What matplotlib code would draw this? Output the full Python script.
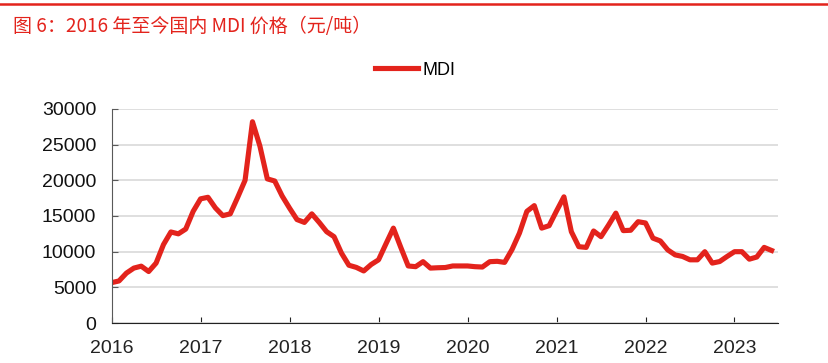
import numpy as np
import matplotlib
matplotlib.use("Agg")
import matplotlib.pyplot as plt
from matplotlib.lines import Line2D

# monthly MDI price, Jan 2016 - Jun 2023 (yuan/ton)
mdi_2016 = [5660, 5900, 7000, 7700, 7970, 7220, 8400, 11000, 12760, 12500, 13170, 15650]
mdi_2017 = [17400, 17620, 16130, 15050, 15300, 17600, 20000, 28200, 24800, 20200, 19900, 17800]
mdi_2018 = [16100, 14500, 14100, 15300, 14100, 12800, 12100, 9800, 8100, 7800, 7300, 8200]
mdi_2019 = [8860, 11100, 13300, 10600, 8000, 7900, 8600, 7700, 7750, 7780, 8000, 8000]
mdi_2020 = [8000, 7900, 7850, 8600, 8650, 8500, 10300, 12600, 15650, 16450, 13300, 13640]
mdi_2021 = [15700, 17680, 12800, 10700, 10600, 12900, 12100, 13700, 15400, 12950, 13000, 14200]
mdi_2022 = [14020, 11900, 11500, 10250, 9550, 9330, 8860, 8860, 10000, 8400, 8620, 9330]
mdi_2023 = [10000, 10000, 8950, 9250, 10600, 10170]

mdi = mdi_2016 + mdi_2017 + mdi_2018 + mdi_2019 + mdi_2020 + mdi_2021 + mdi_2022 + mdi_2023
years = [2016, 2017, 2018, 2019, 2020, 2021, 2022, 2023]
t = 2016 + np.arange(len(mdi)) / 12.0

red = '#e3231c'
plt.rcParams['font.family'] = ['Liberation Sans', 'DejaVu Sans']

fig = plt.figure(figsize=(8.29, 3.63), dpi=100)
ax = fig.add_axes([0.1346, 0.110, 0.804, 0.590])

ax.plot(t, mdi, color=red, lw=3.7, label='MDI', solid_joinstyle='round')

ax.set_xlim(2016, 2023.49)
ax.set_ylim(0, 30000)
ax.set_yticks(range(0, 30001, 5000))
ax.set_xticks(years)
ax.set_xticklabels([str(y) for y in years])
ax.yaxis.grid(True, color='#d9d9d9', lw=1.2)
ax.set_axisbelow(True)
for s in ['top', 'right']:
    ax.spines[s].set_visible(False)
ax.spines['left'].set_color('#595959')
ax.spines['bottom'].set_color('#222222')
ax.tick_params(axis='both', direction='in', length=4, labelsize=14, colors='#222222')
ax.tick_params(axis='y', pad=11, colors='#595959', labelcolor='#111111')
ax.tick_params(axis='x', pad=12)

fig.legend(loc='center', bbox_to_anchor=(0.501, 0.807), frameon=False,
           fontsize=13, handlelength=2.4, handletextpad=0.25)

fig.add_artist(Line2D([0, 1], [0.989, 0.989], color=red, lw=1.8))
fig.text(0.016, 0.928, '图 6：2016 年至今国内 MDI 价格（元/吨）', color=red, fontsize=13.7,
         family=['Noto Sans CJK SC', 'DejaVu Sans'], va='center', ha='left')

fig.savefig('out.png', dpi=100)
